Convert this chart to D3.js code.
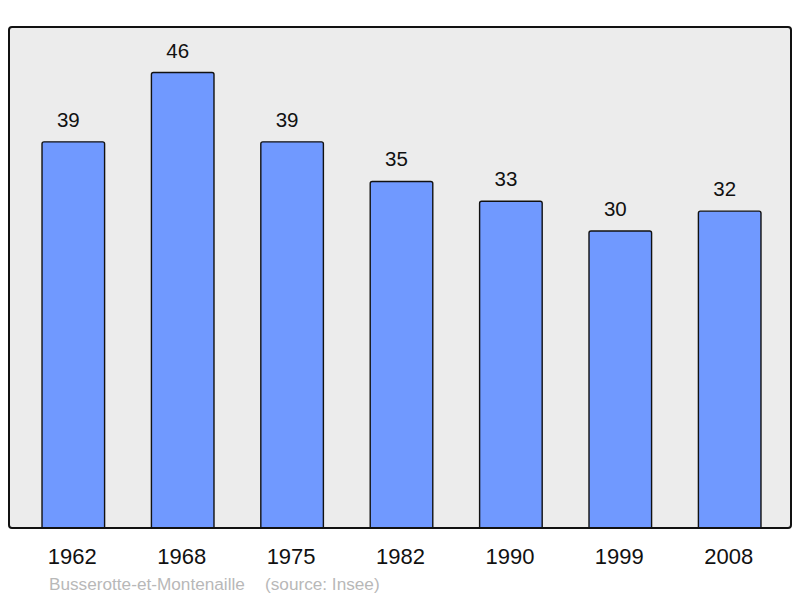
<!DOCTYPE html>
<html><head><meta charset="utf-8">
<script src="https://cdn.jsdelivr.net/npm/d3@7"></script>
<style>html,body{margin:0;padding:0;background:#fff;}svg{display:block;}</style>
</head><body>
<script>
const years = ["1962","1968","1975","1982","1990","1999","2008"];
const population = [39,46,39,35,33,30,32];
const townName = "Busserotte-et-Montenaille";
const sourceText = "(source: Insee)";

const W = 800, H = 598;
const frame = {x0: 9, x1: 791, y0: 27, y1: 528};
const svg = d3.select("body").append("svg").attr("width", W).attr("height", H);
const font = "'Liberation Sans', Arial, sans-serif";

const x = d3.scaleBand().domain(years).range([9.2, 793.8]).paddingInner(0.428).paddingOuter(0.3);
const y = d3.scaleLinear().domain([0, d3.max(population) * 1.1]).range([frame.y1, frame.y0]);

svg.append("rect").attr("x", frame.x0).attr("y", frame.y0)
  .attr("width", frame.x1 - frame.x0).attr("height", frame.y1 - frame.y0)
  .attr("rx", 3).attr("fill", "#ececec");

const data = years.map((yr, i) => ({yr, v: population[i]}));

function barPath(d) {
  const x0 = x(d.yr), w = x.bandwidth(), top = y(d.v), bot = y(0), r = 2;
  return `M${x0},${bot}V${top + r}Q${x0},${top} ${x0 + r},${top}H${x0 + w - r}Q${x0 + w},${top} ${x0 + w},${top + r}V${bot}`;
}
svg.selectAll("path.bar").data(data).join("path").attr("class", "bar")
  .attr("d", barPath).attr("fill", "#7099ff").attr("stroke", "#111").attr("stroke-width", 1.4);

svg.selectAll("text.val").data(data).join("text").attr("class", "val")
  .attr("x", d => x(d.yr) + x.bandwidth() / 2 - 5).attr("y", d => y(d.v) - 15)
  .attr("text-anchor", "middle").attr("font-family", font).attr("font-size", 20.5)
  .attr("fill", "#111").text(d => d.v);

// frame border on top
svg.append("rect").attr("x", frame.x0).attr("y", frame.y0)
  .attr("width", frame.x1 - frame.x0).attr("height", frame.y1 - frame.y0)
  .attr("rx", 3).attr("fill", "none").attr("stroke", "#111").attr("stroke-width", 2);

const xAxis = svg.append("g").attr("transform", `translate(0,${frame.y1})`)
  .call(d3.axisBottom(x).tickSize(0).tickPadding(0));
xAxis.select(".domain").remove();
xAxis.selectAll("text").attr("font-family", font).attr("font-size", 22)
  .attr("fill", "#111").attr("dy", null).attr("x", -1).attr("y", 36);

svg.append("text").attr("x", 49).attr("y", 590).attr("font-family", font)
  .attr("font-size", 17.2).attr("fill", "#b8b8b8").text(townName);
svg.append("text").attr("x", 265).attr("y", 590).attr("font-family", font)
  .attr("font-size", 17.2).attr("fill", "#b8b8b8").text(sourceText);
</script>
</body></html>
